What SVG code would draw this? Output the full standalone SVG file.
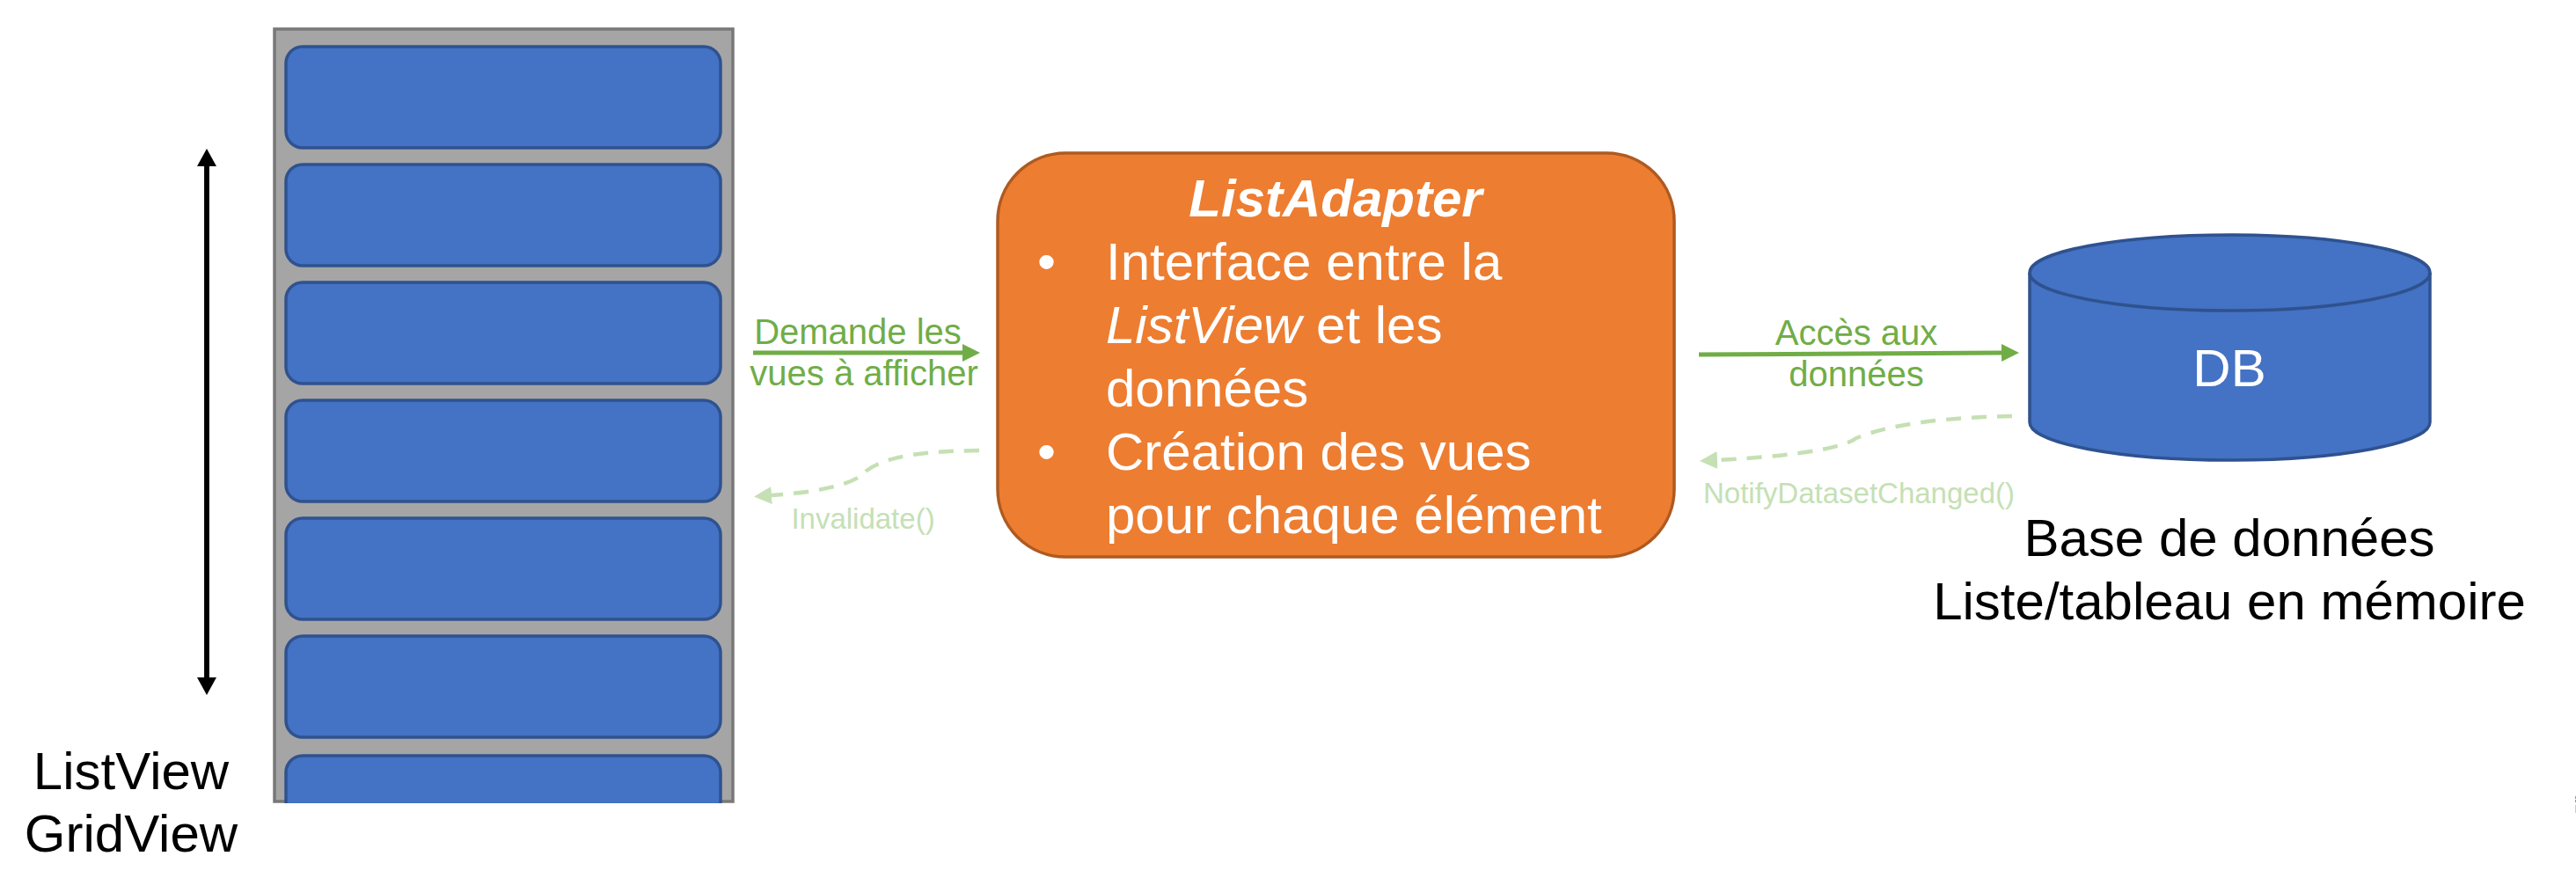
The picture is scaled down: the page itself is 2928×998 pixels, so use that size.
<svg xmlns="http://www.w3.org/2000/svg" width="2928" height="998" viewBox="0 0 2928 998">
<style>
text{font-family:"Liberation Sans",Arial,sans-serif}
.row{fill:#4472C4;stroke:#2F528F;stroke-width:3.5}
.big{font-size:60px;fill:#000;text-anchor:middle}
.wh{font-size:60px;fill:#fff}
.gl{font-size:40px;fill:#70AD47;text-anchor:middle}
.lg{font-size:33px;fill:#C5E0B4;text-anchor:middle}
.solid{fill:none;stroke:#70AD47;stroke-width:5}
.dash{fill:none;stroke:#C5E0B4;stroke-width:4.5;stroke-dasharray:17 12}
</style>
<defs>
<marker id="hg" markerUnits="userSpaceOnUse" markerWidth="22" markerHeight="22" refX="0" refY="10" orient="auto"><path d="M0 0L20 10L0 20z" fill="#70AD47"/></marker>
<marker id="hl" markerUnits="userSpaceOnUse" markerWidth="22" markerHeight="22" refX="0" refY="10" orient="auto"><path d="M0 0L20 10L0 20z" fill="#C5E0B4"/></marker>
<marker id="hk" markerUnits="userSpaceOnUse" markerWidth="24" markerHeight="24" refX="0" refY="11" orient="auto"><path d="M0 0L20 11L0 22z" fill="#000"/></marker>
</defs>
<rect width="2928" height="998" fill="#fff"/>
<g id="listview">
<rect x="312" y="33" width="521" height="878" fill="#A5A5A5" stroke="#787878" stroke-width="3.5"/>
<rect class="row" x="325" y="53" width="494" height="115" rx="19"/>
<rect class="row" x="325" y="187" width="494" height="115" rx="19"/>
<rect class="row" x="325" y="321" width="494" height="115" rx="19"/>
<rect class="row" x="325" y="455" width="494" height="115" rx="19"/>
<rect class="row" x="325" y="589" width="494" height="115" rx="19"/>
<rect class="row" x="325" y="723" width="494" height="115" rx="19"/>
<path class="row" d="M325 913V878a19 19 0 0 1 19-19H800a19 19 0 0 1 19 19V913"/>
</g>
<g id="listview-label">
<text class="big" x="149" y="897">ListView</text>
<text class="big" x="149" y="968">GridView</text>
</g>
<g id="listadapter">
<rect x="1134" y="174" width="769" height="459" rx="77" fill="#ED7D31" stroke="#AE5A21" stroke-width="3.5"/>
<text class="wh" x="1518" y="246" text-anchor="middle" font-weight="bold" font-style="italic">ListAdapter</text>
<text class="wh" x="1179" y="318">•</text>
<text class="wh" x="1257" y="318">Interface entre la</text>
<text class="wh" x="1257" y="390"><tspan font-style="italic">ListView</tspan> et les</text>
<text class="wh" x="1257" y="462">données</text>
<text class="wh" x="1179" y="534">•</text>
<text class="wh" x="1257" y="534">Création des vues</text>
<text class="wh" x="1257" y="606">pour chaque élément</text>
</g>
<g id="db">
<path d="M2307 310V480A227.500 43 0 0 0 2762 480V310A227.500 43 0 0 0 2307 310Z" fill="#4472C4" stroke="#2F528F" stroke-width="3.500"/>
<path d="M2307 310A227.500 43 0 0 0 2762 310" fill="none" stroke="#2F528F" stroke-width="3.500"/>
<text class="wh" x="2534" y="439" text-anchor="middle">DB</text>
</g>
<g id="db-label">
<text class="big" x="2534" y="632">Base de données</text>
<text class="big" x="2534" y="704">Liste/tableau en mémoire</text>
</g>
<g id="connectors">
<path d="M235 770V189" fill="none" stroke="#000" stroke-width="5.500" marker-end="url(#hk)"/>
<path d="M235 189V770" fill="none" stroke="#000" stroke-width="5.500" marker-end="url(#hk)"/>
<path class="solid" d="M856 401H1094" marker-end="url(#hg)"/>
<path class="dash" d="M1113 512C1060 513 1010 516 985 535C970 553 920 560 877 563" marker-end="url(#hl)"/>
<path class="solid" d="M1931 403L2275 401" marker-end="url(#hg)"/>
<path class="dash" d="M2287 473C2220 474 2150 481 2110 498C2090 513 2010 520 1952 523" marker-end="url(#hl)"/>
</g>
<g id="connector-labels">
<text class="gl" x="975" y="391">Demande les</text>
<text class="gl" x="982" y="438">vues à afficher</text>
<text class="lg" x="981" y="601">Invalidate()</text>
<text class="gl" x="2110" y="392">Accès aux</text>
<text class="gl" x="2110" y="439">données</text>
<text class="lg" x="2113" y="572">NotifyDatasetChanged()</text>
</g>
<g id="edge-mark" fill="#999">
<rect x="2927" y="905" width="1" height="3"/>
<rect x="2927" y="909" width="1" height="3"/>
<rect x="2927" y="915" width="1" height="9" fill="#ccc"/>
</g>
</svg>
